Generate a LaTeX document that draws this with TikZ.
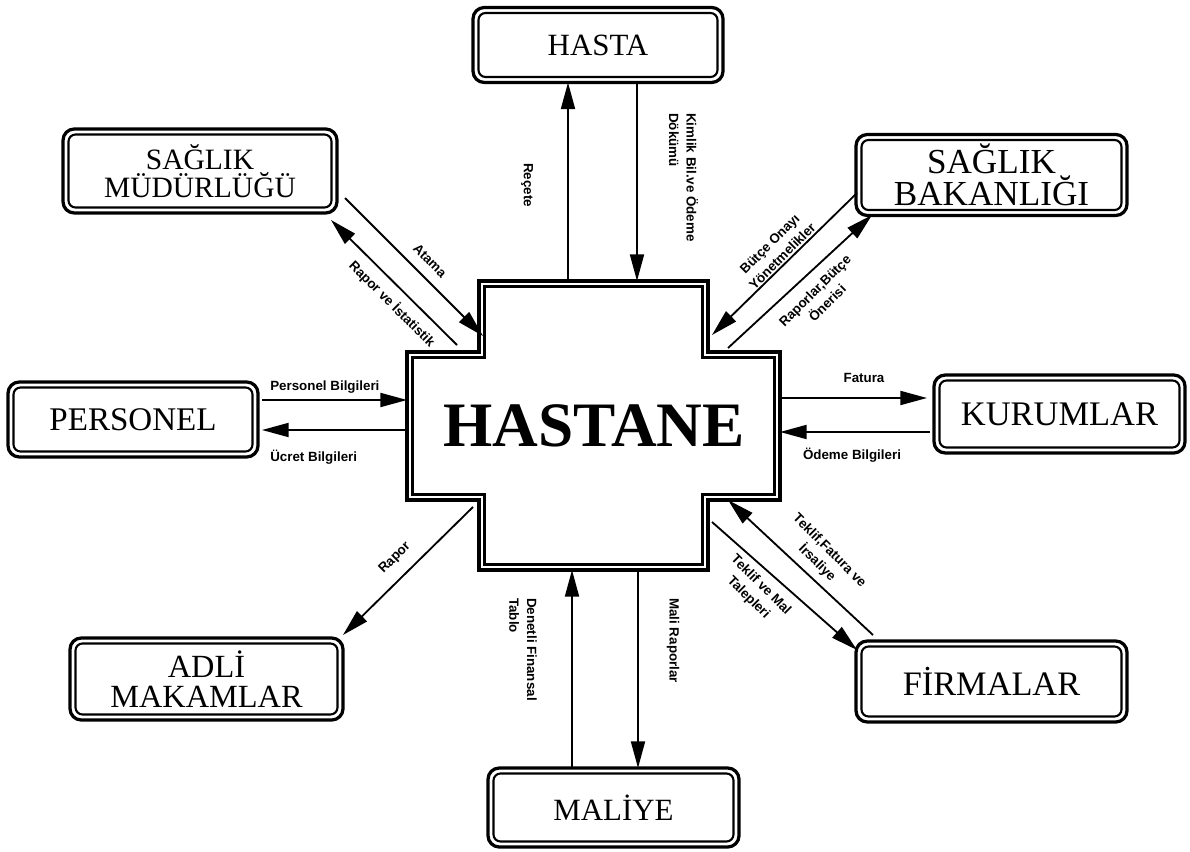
\documentclass[tikz,border=0pt]{standalone}
\usepackage{fontspec}
\setmainfont{Liberation Serif}
\newfontfamily\lblfont{Liberation Sans}
\usetikzlibrary{arrows.meta,calc}
\newlength\pxu
\setlength\pxu{0.025cm}
\newcommand\entsize[2]{\fontsize{#1}{#2}\selectfont}

\begin{document}
\begin{tikzpicture}[x=0.025cm,y=-0.025cm,
  ent/.style={draw, line width=2.3pt, rounded corners=8pt, outer sep=0pt,
    inner sep=0pt, align=center, fill=white},
  entinner/.style={line width=1.5pt, rounded corners=5pt},
  crossout/.style={line width=2.6pt, line join=miter},
  crossin/.style={line width=1.6pt, line join=miter},
  flow/.style={line width=1.3pt, -{Triangle[length=19pt,width=10pt]}},
  lbl/.style={font=\lblfont\bfseries\fontsize{9.5}{12.5}\selectfont, inner sep=0pt}]

\fill[white] (0,0) rectangle (1190,852);
\useasboundingbox (0,0) rectangle (1190,852);

% central cross: thick outer outline, thinner inner outline
\draw[crossout] (479,281) -- (708,281) -- (708,352) -- (780,352) -- (780,500)
  -- (708,500) -- (708,570) -- (479,570) -- (479,500) -- (407,500)
  -- (407,352) -- (479,352) -- cycle;
\draw[crossin] (484.5,286.5) -- (702.5,286.5) -- (702.5,357.5) -- (774.5,357.5)
  -- (774.5,494.5) -- (702.5,494.5) -- (702.5,564.5) -- (484.5,564.5)
  -- (484.5,494.5) -- (412.5,494.5) -- (412.5,357.5) -- (484.5,357.5) -- cycle;
\node[font=\bfseries\entsize{45}{45}, inner sep=0pt] (hastane) at (594,426) {HASTANE};

% outer entities
\node[ent, minimum width=250\pxu, minimum height=75\pxu, font=\entsize{22}{22}]
  (hasta) at (598,45) {HASTA};
\node[ent, minimum width=274\pxu, minimum height=84\pxu, font=\entsize{21}{20}]
  (smud) at (200,171) {SAĞLIK\\MÜDÜRLÜĞÜ};
\node[ent, minimum width=271\pxu, minimum height=81\pxu, font=\entsize{25}{23}]
  (sbak) at (991.5,175) {SAĞLIK\\BAKANLIĞI};
\node[ent, minimum width=250\pxu, minimum height=75\pxu, font=\entsize{23.5}{23.5}]
  (pers) at (133,419.5) {PERSONEL};
\node[ent, minimum width=251\pxu, minimum height=78\pxu, font=\entsize{24.5}{24.5}]
  (kurum) at (1059.5,414) {KURUMLAR};
\node[ent, minimum width=273\pxu, minimum height=82\pxu, font=\entsize{23}{21.5}]
  (adli) at (206.5,679) {ADLİ\\MAKAMLAR};
\node[ent, minimum width=271\pxu, minimum height=81\pxu, font=\entsize{24.4}{24.4}]
  (firma) at (991.5,681.5) {FİRMALAR};
\node[ent, minimum width=251\pxu, minimum height=79\pxu, font=\entsize{22}{22}]
  (maliye) at (613.5,807.5) {MALİYE};

% inner outline of each entity box
\foreach \n in {hasta,smud,sbak,pers,kurum,adli,firma,maliye}
  \draw[entinner] ([shift={(5.5,5.5)}]\n.north west) rectangle ([shift={(-5.5,-5.5)}]\n.south east);

% contact points on the cross
\coordinate (cx-n1) at (568,281);
\coordinate (cx-n2) at (637,281);
\coordinate (cx-w1) at (407,400);
\coordinate (cx-w2) at (407,430);
\coordinate (cx-e1) at (780,398);
\coordinate (cx-e2) at (780,432);
\coordinate (cx-s1) at (572,570);
\coordinate (cx-s2) at (638,570);
\coordinate (cx-nw1) at (483,336);
\coordinate (cx-nw2) at (457,345);
\coordinate (cx-ne1) at (712,335);
\coordinate (cx-ne2) at (728,348);
\coordinate (cx-sw) at (473,507);
\coordinate (cx-se1) at (728,500);
\coordinate (cx-se2) at (712,522);
% contact points near the diagonal boxes
\coordinate (smud-a) at (345,198);
\coordinate (smud-b) at (331,220);
\coordinate (sbak-a) at (857,193);
\coordinate (sbak-b) at (872,215);
\coordinate (adli-a) at (343,635);
\coordinate (firma-a) at (873,635);
\coordinate (firma-b) at (857,650);

% vertical flows
\draw[flow] (cx-n1) -- (cx-n1 |- hasta.south);
\draw[flow] (cx-n2 |- hasta.south) -- (cx-n2);
\draw[flow] (cx-s1 |- maliye.north) -- (cx-s1);
\draw[flow] (cx-s2) -- (cx-s2 |- maliye.north);
% horizontal flows
\draw[flow] ([xshift=4\pxu]pers.east |- cx-w1) -- (cx-w1);
\draw[flow] (cx-w2) -- ([xshift=4\pxu]pers.east |- cx-w2);
\draw[flow] (cx-e1) -- ([xshift=-7\pxu]kurum.west |- cx-e1);
\draw[flow] ([xshift=-4\pxu]kurum.west |- cx-e2) -- (cx-e2);
% diagonal flows
\draw[flow] (smud-a) -- (cx-nw1);
\draw[flow] (cx-nw2) -- (smud-b);
\draw[flow] (sbak-a) -- (cx-ne1);
\draw[flow] (cx-ne2) -- (sbak-b);
\draw[flow] (cx-sw) -- (adli-a);
\draw[flow] (firma-a) -- (cx-se1);
\draw[flow] (cx-se2) -- (firma-b);

% flow labels
\node[lbl, rotate=-90] (l-rec) at (527,185) {Reçete};
\node[lbl, rotate=-90, anchor=west, align=left] (l-kim) at (683.5,113) {Kimlik Bil.ve Ödeme\\Dökümü};
\node[lbl, rotate=-45] (l-ata) at (430,261) {Atama};
\node[lbl, rotate=-45] (l-rap1) at (392,304) {Rapor ve İstatistik};
\node[lbl, rotate=45, align=center] (l-but) at (776,250) {Bütçe Onayı\\Yönetmelikler};
\node[lbl, rotate=45, align=center] (l-rap2) at (821,297) {Raporlar,Bütçe\\Önerisi};
\node[lbl, anchor=west] (l-per) at (270,387) {Personel Bilgileri};
\node[lbl, anchor=west] (l-ucr) at (270,457) {Ücret Bilgileri};
\node[lbl] (l-fat) at (864,378) {Fatura};
\node[lbl] (l-ode) at (852,455) {Ödeme Bilgileri};
\node[lbl, rotate=45] (l-rap3) at (395,558) {Rapor};
\node[lbl, rotate=-45, align=center] (l-tek1) at (823,557) {Teklif,Fatura ve\\İrsaliye};
\node[lbl, rotate=-45, align=center] (l-tek2) at (754.5,591.5) {Teklif ve Mal\\Talepleri};
\node[lbl, rotate=-90, anchor=west, align=left] (l-den) at (523,598) {Denetli Finansal\\Tablo};
\node[lbl, rotate=-90, anchor=west] (l-mal) at (673,598) {Mali Raporlar};
\end{tikzpicture}
\end{document}
